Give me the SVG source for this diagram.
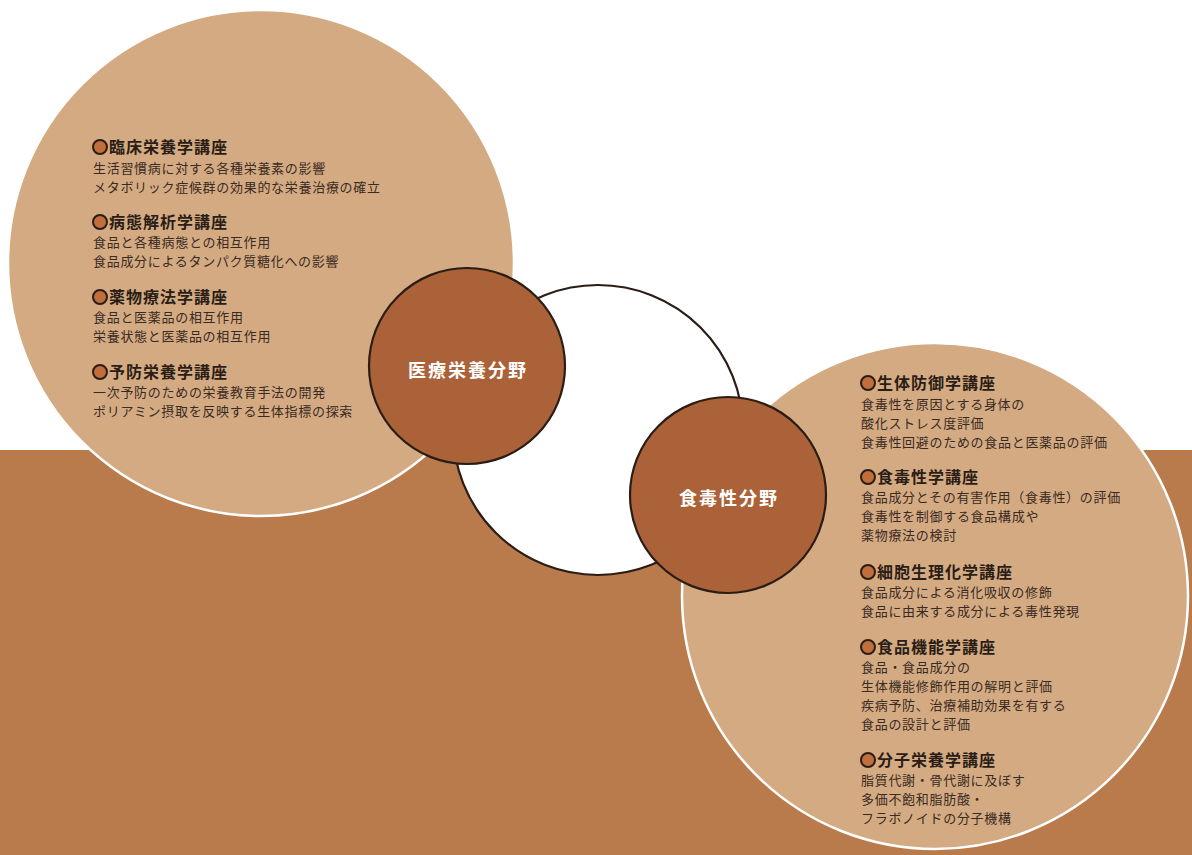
<svg xmlns="http://www.w3.org/2000/svg" width="1192" height="855" viewBox="0 0 1192 855">
<style>
.h{font-family:"Noto Sans CJK JP","Noto Sans",sans-serif;font-size:16px;font-weight:bold;fill:#2a1d15;letter-spacing:1px}
.b{font-family:"Noto Sans CJK JP","Noto Sans",sans-serif;font-size:13px;fill:#3a2b22;letter-spacing:0.7px}
.lbl{font-family:"Noto Sans CJK JP","Noto Sans",sans-serif;font-size:18px;font-weight:bold;fill:#ffffff;letter-spacing:2px;text-anchor:middle}
.big{fill:#d4aa82;stroke:#ffffff;stroke-width:2.5}
.dark{fill:#ab6238;stroke:#2a1d16;stroke-width:2.2}
.dot{fill:#c06f3c;stroke:#2a1d16;stroke-width:2}
</style>
<rect x="0" y="0" width="1192" height="855" fill="#ffffff"/>
<rect x="0" y="450" width="1192" height="405" fill="#ba7b4c"/>
<g id="connectors">
<circle cx="598" cy="430" r="145" fill="#ffffff" stroke="#2a1d16" stroke-width="2.2"/>
</g>
<g id="left-area">
<circle class="big" cx="261" cy="263" r="253"/>
<circle class="dot" cx="100" cy="147" r="7"/>
<text class="h" x="109" y="153">臨床栄養学講座</text>
<text class="b" x="93" y="173">生活習慣病に対する各種栄養素の影響</text>
<text class="b" x="93" y="192">メタボリック症候群の効果的な栄養治療の確立</text>
<circle class="dot" cx="100" cy="222" r="7"/>
<text class="h" x="109" y="228">病態解析学講座</text>
<text class="b" x="93" y="247">食品と各種病態との相互作用</text>
<text class="b" x="93" y="266">食品成分によるタンパク質糖化への影響</text>
<circle class="dot" cx="100" cy="297" r="7"/>
<text class="h" x="109" y="303">薬物療法学講座</text>
<text class="b" x="93" y="322">食品と医薬品の相互作用</text>
<text class="b" x="93" y="341">栄養状態と医薬品の相互作用</text>
<circle class="dot" cx="100" cy="372" r="7"/>
<text class="h" x="109" y="378">予防栄養学講座</text>
<text class="b" x="93" y="397">一次予防のための栄養教育手法の開発</text>
<text class="b" x="93" y="416">ポリアミン摂取を反映する生体指標の探索</text>
</g>
<g id="right-area">
<circle class="big" cx="935" cy="596" r="253"/>
<circle class="dot" cx="868" cy="383" r="7"/>
<text class="h" x="877" y="389">生体防御学講座</text>
<text class="b" x="861" y="409">食毒性を原因とする身体の</text>
<text class="b" x="861" y="428">酸化ストレス度評価</text>
<text class="b" x="861" y="447">食毒性回避のための食品と医薬品の評価</text>
<circle class="dot" cx="868" cy="477" r="7"/>
<text class="h" x="877" y="483">食毒性学講座</text>
<text class="b" x="861" y="502">食品成分とその有害作用（食毒性）の評価</text>
<text class="b" x="861" y="521">食毒性を制御する食品構成や</text>
<text class="b" x="861" y="540">薬物療法の検討</text>
<circle class="dot" cx="868" cy="572" r="7"/>
<text class="h" x="877" y="578">細胞生理化学講座</text>
<text class="b" x="861" y="597">食品成分による消化吸収の修飾</text>
<text class="b" x="861" y="616">食品に由来する成分による毒性発現</text>
<circle class="dot" cx="868" cy="647" r="7"/>
<text class="h" x="877" y="653">食品機能学講座</text>
<text class="b" x="861" y="672">食品・食品成分の</text>
<text class="b" x="861" y="691">生体機能修飾作用の解明と評価</text>
<text class="b" x="861" y="710">疾病予防、治療補助効果を有する</text>
<text class="b" x="861" y="729">食品の設計と評価</text>
<circle class="dot" cx="868" cy="760" r="7"/>
<text class="h" x="877" y="766">分子栄養学講座</text>
<text class="b" x="861" y="785">脂質代謝・骨代謝に及ぼす</text>
<text class="b" x="861" y="804">多価不飽和脂肪酸・</text>
<text class="b" x="861" y="823">フラボノイドの分子機構</text>
</g>
<g id="node-medical">
<circle class="dark" cx="467" cy="366" r="98"/>
<text class="lbl" x="468" y="377">医療栄養分野</text>
</g>
<g id="node-toxicity">
<circle class="dark" cx="728" cy="495" r="98"/>
<text class="lbl" x="729" y="505">食毒性分野</text>
</g>
</svg>
